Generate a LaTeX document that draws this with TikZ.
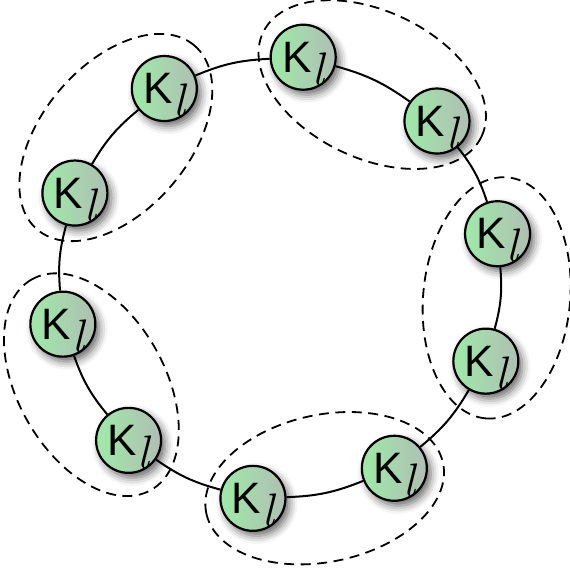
\documentclass[tikz,border=0pt]{standalone}
\usepackage{fontspec}
\usepackage{tikz}
\usetikzlibrary{shadows.blur}

\newfontfamily\kfont{Liberation Sans}
\definecolor{kleft}{RGB}{158,234,168}
\definecolor{kright}{RGB}{176,190,180}
\newcommand{\Kl}{{\kfont K}\kern1pt\smash{\raisebox{-13pt}{\fontsize{47}{47}\selectfont\itshape l}}}

\begin{document}
\begin{tikzpicture}[x=1pt,y=1pt,line width=2pt,
  kstate/.style={circle,draw,line width=2.2pt,minimum size=65pt,inner sep=0pt,
    left color=kleft,right color=kright,
    blur shadow={shadow xshift=4pt,shadow yshift=-5pt,shadow blur radius=8pt,shadow opacity=60},
    font=\fontsize{44}{44}\selectfont},
  group/.style={dash pattern=on 10pt off 6.5pt,line width=1.8pt}]
\useasboundingbox (-280,-291) rectangle (290,278);

\foreach \a [count=\i] in {84,45,11.5,-22,-59,-97,-133,-168,157.5,121.4}
  \node[kstate] (K\i) at (\a:222) {\Kl};

\foreach \i in {1,...,10}{
  \pgfmathtruncatemacro{\j}{mod(\i,10)+1}
  \path (K\i) edge[bend left=10] (K\j);
}

% dashed pairs
\foreach \a/\b in {84/45,11.5/-22,-59/-97,-133/-168,157.5/121.4}
  \draw[group] ({(\a+\b)/2}:{222*cos((\a-\b)/2)+5})
    ellipse [x radius=121,y radius=73.5,rotate={(\a+\b)/2-90}];

\end{tikzpicture}
\end{document}
